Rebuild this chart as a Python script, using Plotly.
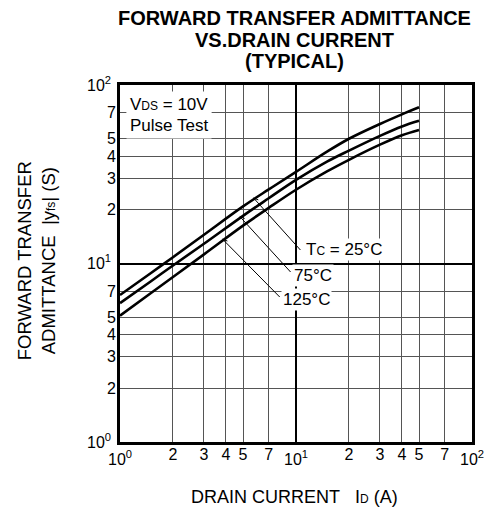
import numpy as np
import plotly.graph_objects as go

# ---- data ----
CURRENT = [1, 1.5, 2, 3, 5, 7, 10, 15, 20, 30, 40, 50]          # I_D (A)
TC25 = [6.66, 8.85, 10.85, 14.5, 20.9, 26.0, 32.6, 42.3, 50.0, 60.5, 68.5, 75.0]
TC75 = [6.0, 7.96, 9.75, 12.9, 18.5, 23.2, 29.4, 37.2, 42.9, 51.9, 58.6, 63.0]
TC125 = [5.1, 6.84, 8.4, 11.25, 16.3, 20.5, 25.9, 32.8, 38.1, 46.3, 52.3, 56.0]

MAJOR_VALS = [1, 10, 100]
MAJOR_TEXT = ["10<sup>0</sup>", "10<sup>1</sup>", "10<sup>2</sup>"]
MINOR_VALS = [2, 3, 4, 5, 7, 20, 30, 40, 50, 70]
MINOR_TEXT = ["2", "3", "4", "5", "7", "2", "3", "4", "5", "7"]

SERIES = [("25", TC25), ("75", TC75), ("125", TC125)]
# current at which each label's leader touches its curve
LEADER_AT = {"25": 5.8, "75": 4.85, "125": 3.87}

FONT = "Liberation Sans, Arial, Helvetica, sans-serif"
SMALL = "<span style='font-size:12px'>{}</span>"

fig = go.Figure()
for name, vals in SERIES:
    fig.add_trace(go.Scatter(x=CURRENT, y=vals, mode="lines",
                             line=dict(color="black", width=2.6, shape="spline", smoothing=1.0),
                             name=name, showlegend=False, hoverinfo="skip"))
# invisible trace carrying the overlay axes for the minor tick labels
fig.add_trace(go.Scatter(x=CURRENT, y=TC25, mode="lines", xaxis="x2", yaxis="y2", opacity=0,
                         line=dict(width=0), showlegend=False, hoverinfo="skip"))

axis_common = dict(type="log", range=[0, 2], showline=True, mirror=True, linecolor="black", linewidth=2.5,
                   tickmode="array", tickvals=MAJOR_VALS, ticktext=MAJOR_TEXT,
                   showgrid=True, gridcolor="black", gridwidth=2, zeroline=False, ticks="",
                   tickfont=dict(family=FONT, size=16, color="black"),
                   minor=dict(tickmode="array", tickvals=MINOR_VALS, showgrid=True, gridcolor="#555555",
                              gridwidth=1.1, ticks=""))
overlay_common = dict(type="log", range=[0, 2], tickmode="array", tickvals=MINOR_VALS, ticktext=MINOR_TEXT,
                      showgrid=False, showline=False, zeroline=False, ticks="",
                      tickfont=dict(family=FONT, size=16, color="black"))

fig.update_layout(
    width=496, height=517,
    margin=dict(l=120, r=19, t=85, b=75),
    paper_bgcolor="white", plot_bgcolor="white",
    xaxis=dict(**axis_common, ticklabelstandoff=1),
    yaxis=dict(**axis_common, ticklabelstandoff=3),
    xaxis2=dict(**overlay_common, overlaying="x", anchor="y", side="bottom", ticklabelstandoff=1),
    yaxis2=dict(**overlay_common, overlaying="y", anchor="x", side="left", ticklabelstandoff=3),
    font=dict(family=FONT, color="black"),
)

PLOT_PX = 357.0

def px_x(p):
    return (p - 120) / PLOT_PX

def px_y(p):
    return (442 - p) / PLOT_PX

ann = []
# title
for txt, yc in [("FORWARD TRANSFER ADMITTANCE", 17.5), ("VS.DRAIN CURRENT", 39.5), ("(TYPICAL)", 61)]:
    ann.append(dict(text="<b>" + txt + "</b>", xref="paper", yref="paper", x=px_x(297), y=px_y(yc),
                    xanchor="center", yanchor="middle", showarrow=False,
                    font=dict(family=FONT, size=20, color="black")))
# axis titles
ann.append(dict(text="FORWARD TRANSFER<br>ADMITTANCE\u00a0\u00a0|y" + SMALL.format("fs") + "|\u00a0(S)",
                xref="paper", yref="paper", x=px_x(35), y=px_y(261), textangle=-90,
                xanchor="center", yanchor="middle", showarrow=False,
                font=dict(family=FONT, size=18.5, color="black")))
ann.append(dict(text="DRAIN CURRENT\u00a0\u00a0\u00a0I" + SMALL.format("D") + "\u00a0(A)",
                xref="paper", yref="paper", x=px_x(297), y=px_y(497),
                xanchor="center", yanchor="middle", showarrow=False,
                font=dict(family=FONT, size=18, color="black")))
# condition box
ann.append(dict(text="V" + SMALL.format("DS") + " = 10V", xref="paper", yref="paper", x=px_x(126), y=px_y(104),
                xanchor="left", yanchor="middle", showarrow=False, bgcolor="white", borderpad=3,
                font=dict(family=FONT, size=17, color="black")))
ann.append(dict(text="Pulse Test", xref="paper", yref="paper", x=px_x(126), y=px_y(125),
                xanchor="left", yanchor="middle", showarrow=False, bgcolor="white", borderpad=3,
                font=dict(family=FONT, size=17, color="black")))

# curve labels with leader lines
labels = {"25": ("T" + SMALL.format("C") + " = 25°C", (347, 249), (303, 250)),
          "75": ("75°C", (316, 275), (293, 272)),
          "125": ("125°C", (309, 299), (282, 297))}
shapes = []
for name, vals in SERIES:
    txt, (cx, cy), (tx, ty) = labels[name]
    xi = LEADER_AT[name]
    ly = np.interp(np.log10(xi), np.log10(CURRENT), np.log10(vals))
    hx, hy = np.log10(xi) / 2.0, ly / 2.0          # head on the curve, paper coords
    shapes.append(dict(type="line", xref="paper", yref="paper", x0=hx, y0=hy, x1=px_x(tx), y1=px_y(ty),
                       line=dict(color="black", width=1)))
    shapes.append(dict(type="line", xref="paper", yref="paper", x0=hx - 1 / PLOT_PX, y0=hy + 1 / PLOT_PX,
                       x1=hx + 4 / PLOT_PX, y1=hy - 1 / PLOT_PX, line=dict(color="black", width=1)))
    ann.append(dict(text=txt, xref="paper", yref="paper", x=px_x(cx), y=px_y(cy),
                    xanchor="center", yanchor="middle", showarrow=False, bgcolor="white", borderpad=1,
                    font=dict(family=FONT, size=17, color="black")))
fig.update_layout(annotations=ann, shapes=shapes)

fig.write_html("out.html", config={"displayModeBar": False},
               post_script="document.body.style.margin='0';")
